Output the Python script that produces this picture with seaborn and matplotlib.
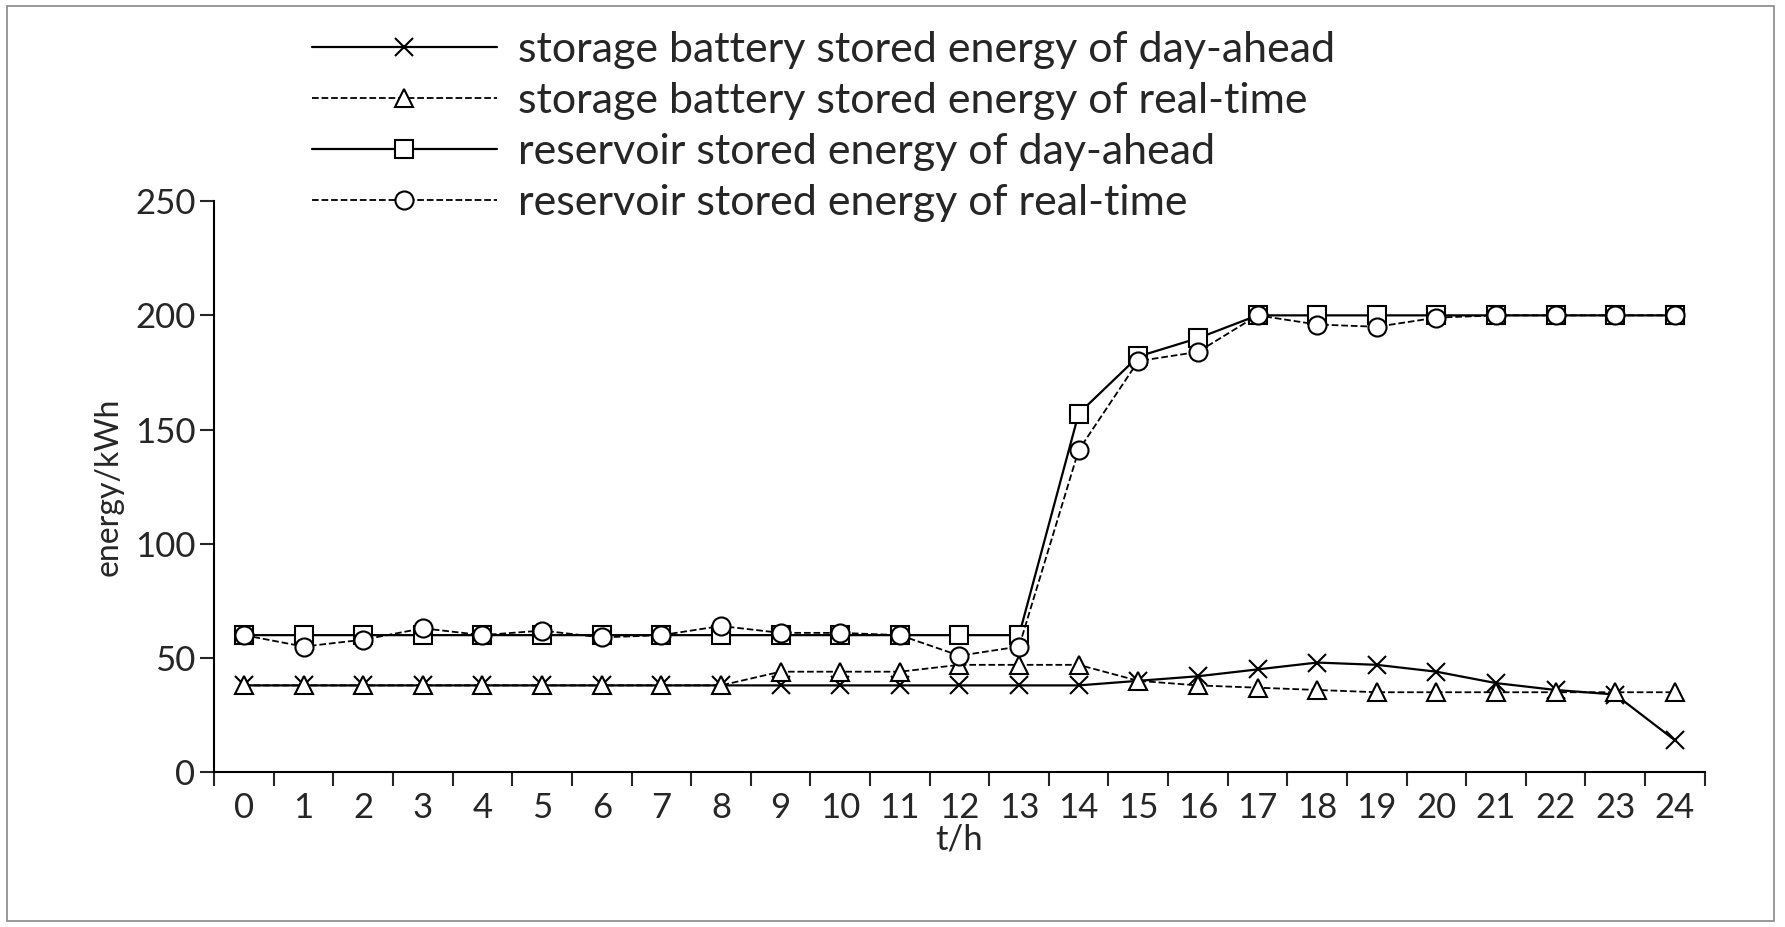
import numpy as np
import pandas as pd
import matplotlib
matplotlib.use('Agg')
import matplotlib.pyplot as plt
import seaborn as sns
from matplotlib.patches import Rectangle

sns.set_theme(style="white")
plt.rcParams['font.family'] = ['Lato', 'DejaVu Sans']

hours = list(range(25))
battery_da = [38, 38, 38, 38, 38, 38, 38, 38, 38, 38, 38, 38, 38, 38, 38,
              40, 42, 45, 48, 47, 44, 39, 36, 34, 14]
battery_rt = [38, 38, 38, 38, 38, 38, 38, 38, 38, 44, 44, 44, 47, 47, 47,
              40, 38, 37, 36, 35, 35, 35, 35, 35, 35]
reservoir_da = [60, 60, 60, 60, 60, 60, 60, 60, 60, 60, 60, 60, 60, 60, 157,
                182, 190, 200, 200, 200, 200, 200, 200, 200, 200]
reservoir_rt = [60, 55, 58, 63, 60, 62, 59, 60, 64, 61, 61, 60, 51, 55, 141,
                180, 184, 200, 196, 195, 199, 200, 200, 200, 200]

labels = ["storage battery stored energy of day-ahead",
          "storage battery stored energy of real-time",
          "reservoir stored energy of day-ahead",
          "reservoir stored energy of real-time"]
series = [battery_da, battery_rt, reservoir_da, reservoir_rt]
markers = ['x', '^', 's', 'o']
styles = ['-', '--', '-', '--']

fig = plt.figure(figsize=(17.85, 9.27), dpi=100)
ax = fig.add_axes([0.12, 0.167, 0.835, 0.616])

for vals, lab, mk, ls in zip(series, labels, markers, styles):
    df = pd.DataFrame({'t': hours, 'e': vals})
    sns.lineplot(data=df, x='t', y='e', ax=ax, color='black', linestyle=ls,
                 linewidth=1.6 if ls == '-' else 1.3, marker=mk, markersize=13,
                 markerfacecolor='white', markeredgecolor='black',
                 markeredgewidth=1.5, label=lab)

ax.set_xlim(-0.4, 24.5)
ax.set_ylim(0, 250)
ax.set_yticks([0, 50, 100, 150, 200, 250])
ax.set_xticks(hours)
ax.set_xticks([h + 0.5 for h in range(-1, 25)], minor=True)
ax.tick_params(axis='x', which='major', length=0, labelsize=25, pad=14)
ax.tick_params(axis='x', which='minor', length=10, width=1.5, direction='out', bottom=True)
ax.tick_params(axis='y', which='major', length=10, width=1.5, direction='out', left=True, labelsize=25)
for s in ['top', 'right']:
    ax.spines[s].set_visible(False)
for s in ['left', 'bottom']:
    ax.spines[s].set_color('black')
    ax.spines[s].set_linewidth(1.5)
ax.set_xlabel('t/h', fontsize=25, labelpad=0)
ax.set_ylabel('energy/kWh', fontsize=23, labelpad=8)

handles, labs = ax.get_legend_handles_labels()
ax.get_legend().remove()
fig.legend(handles, labs, loc='upper left', bbox_to_anchor=(0.165, 0.985), frameon=False,
           fontsize=31, handlelength=4.3, handletextpad=0.5, labelspacing=0.3,
           borderaxespad=0)

fig.patches.append(Rectangle((0.004, 0.006), 0.99, 0.988, transform=fig.transFigure,
                             fill=False, edgecolor='#888888', linewidth=1.2))

fig.savefig('out.png', dpi=100)
